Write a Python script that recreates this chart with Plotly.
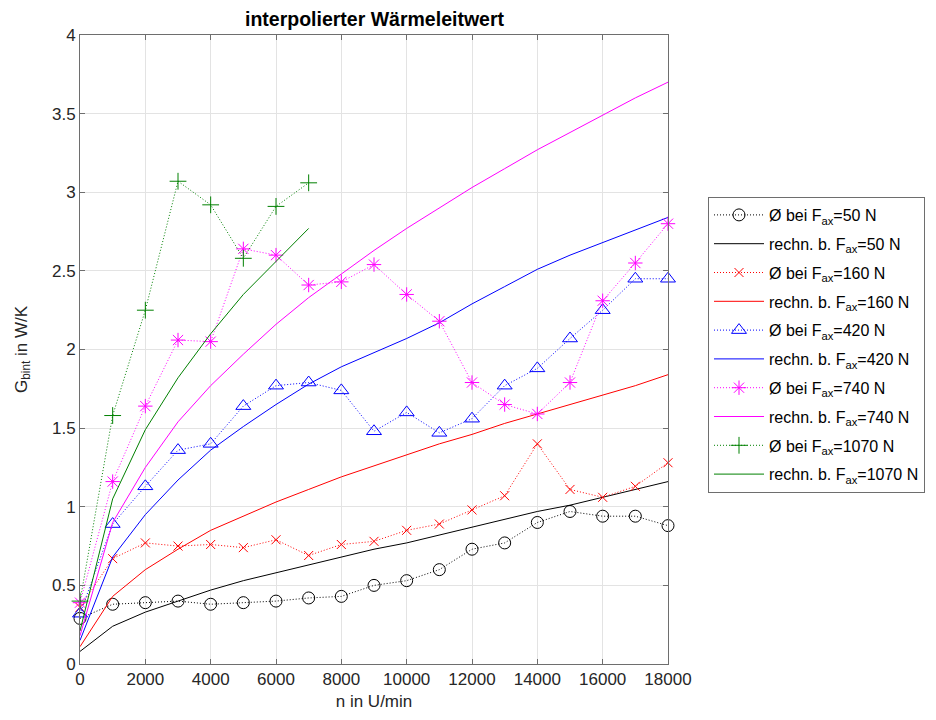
import plotly.graph_objects as go

n = [0, 1000, 2000, 3000, 4000, 5000, 6000, 7000, 8000, 9000, 10000,
     11000, 12000, 13000, 14000, 15000, 16000, 17000, 18000]
n_1070 = [0, 1000, 2000, 3000, 4000, 5000, 6000, 7000]

meas_50 = [0.29, 0.38, 0.39, 0.40, 0.38, 0.39, 0.40, 0.42, 0.43, 0.50, 0.53,
           0.60, 0.73, 0.77, 0.90, 0.97, 0.94, 0.94, 0.88]
calc_50 = [0.08, 0.24, 0.33, 0.40, 0.47, 0.53, 0.58, 0.63, 0.68, 0.73, 0.77,
           0.82, 0.87, 0.92, 0.97, 1.01, 1.06, 1.11, 1.16]
meas_160 = [0.36, 0.67, 0.77, 0.75, 0.76, 0.74, 0.79, 0.69, 0.76, 0.78, 0.85,
            0.89, 0.98, 1.07, 1.40, 1.11, 1.06, 1.13, 1.28]
calc_160 = [0.11, 0.43, 0.60, 0.73, 0.85, 0.94, 1.03, 1.11, 1.19, 1.26, 1.33,
            1.40, 1.46, 1.53, 1.59, 1.65, 1.71, 1.77, 1.84]
meas_420 = [0.32, 0.89, 1.13, 1.36, 1.40, 1.64, 1.77, 1.79, 1.74, 1.48, 1.60,
            1.47, 1.56, 1.77, 1.88, 2.07, 2.25, 2.45, 2.45]
calc_420 = [0.15, 0.68, 0.95, 1.17, 1.36, 1.51, 1.65, 1.78, 1.89, 1.98, 2.07,
            2.17, 2.29, 2.40, 2.51, 2.60, 2.68, 2.76, 2.84]
meas_740 = [0.39, 1.16, 1.64, 2.06, 2.05, 2.64, 2.60, 2.41, 2.43, 2.54, 2.35,
            2.18, 1.79, 1.65, 1.59, 1.79, 2.31, 2.55, 2.80]
calc_740 = [0.18, 0.90, 1.25, 1.54, 1.77, 1.97, 2.16, 2.33, 2.48, 2.63, 2.77,
            2.90, 3.03, 3.15, 3.27, 3.38, 3.49, 3.60, 3.70]
meas_1070 = [0.40, 1.58, 2.25, 3.07, 2.92, 2.58, 2.91, 3.06]
calc_1070 = [0.21, 1.05, 1.49, 1.82, 2.10, 2.35, 2.56, 2.77]

x_ticks = [0, 2000, 4000, 6000, 8000, 10000, 12000, 14000, 16000, 18000]
y_ticks = [0, 0.5, 1, 1.5, 2, 2.5, 3, 3.5, 4]

forces = ["50", "160", "420", "740", "1070"]
colors = ["#000000", "#ff0000", "#0000ff", "#ff00ff", "#008000"]
symbols = ["circle-open", "x-thin-open", "triangle-up-open", "asterisk-open", "cross-thin-open"]
sizes = [12, 9, 13, 12, 12]
xs = [n, n, n, n, n_1070]
meas = [meas_50, meas_160, meas_420, meas_740, meas_1070]
calc = [calc_50, calc_160, calc_420, calc_740, calc_1070]

FONT = "Liberation Sans, Arial, Helvetica, sans-serif"
fig = go.Figure()
gi = 0
for f, c, s, sz, x, m, k in zip(forces, colors, symbols, sizes, xs, meas, calc):
    fig.add_trace(go.Scatter(
        x=x, y=m, mode="lines+markers", cliponaxis=False,
        name=f"Ø bei F<sub>ax</sub>={f} N", legendgroup=f"g{gi:02d}",
        line=dict(color=c, width=1, dash="1px,2px"),
        marker=dict(symbol=s, size=sz, color=c, line=dict(color=c, width=1)),
    ))
    gi += 1
    fig.add_trace(go.Scatter(
        x=x, y=k, mode="lines", legendgroup=f"g{gi:02d}",
        name=f"rechn. b. F<sub>ax</sub>={f} N",
        line=dict(color=c, width=1),
    ))
    gi += 1

axis_common = dict(
    showline=True, linecolor="#6e6e6e", linewidth=1, mirror="ticks",
    ticks="inside", ticklen=5, tickcolor="#6e6e6e",
    showgrid=True, gridcolor="#e3e3e3", gridwidth=1, zeroline=False,
    tickfont=dict(family=FONT, size=17, color="#262626"),
)
fig.update_layout(
    width=936, height=720,
    margin=dict(l=80, r=267, t=35, b=56),
    paper_bgcolor="white", plot_bgcolor="white",
    font=dict(family=FONT, color="#262626"),
    title=dict(text="<b>interpolierter Wärmeleitwert</b>", x=(80 + 669) / 2 / 936,
               xanchor="center", y=1 - 19 / 720, yanchor="middle",
               font=dict(family=FONT, size=19.5, color="#000000")),
    xaxis=dict(range=[0, 18000], tickvals=x_ticks, ticktext=[str(v) for v in x_ticks],
               title=dict(text="n in U/min", font=dict(family=FONT, size=17, color="#262626"), standoff=6),
               **axis_common),
    yaxis=dict(range=[0, 4], tickvals=y_ticks, ticktext=[f"{v:g}" for v in y_ticks],
               title=dict(text="G<sub>bint</sub> in W/K", font=dict(family=FONT, size=17, color="#262626"), standoff=20),
               **axis_common),
    legend=dict(x=(708 - 80) / 589, xanchor="left", y=(664 - 197) / 629, yanchor="top",
                bordercolor="#6e6e6e", borderwidth=1, bgcolor="white", itemwidth=50,
                tracegroupgap=5,
                font=dict(family=FONT, size=16, color="#000000"), traceorder="grouped"),
)
fig.write_html("out.html")
